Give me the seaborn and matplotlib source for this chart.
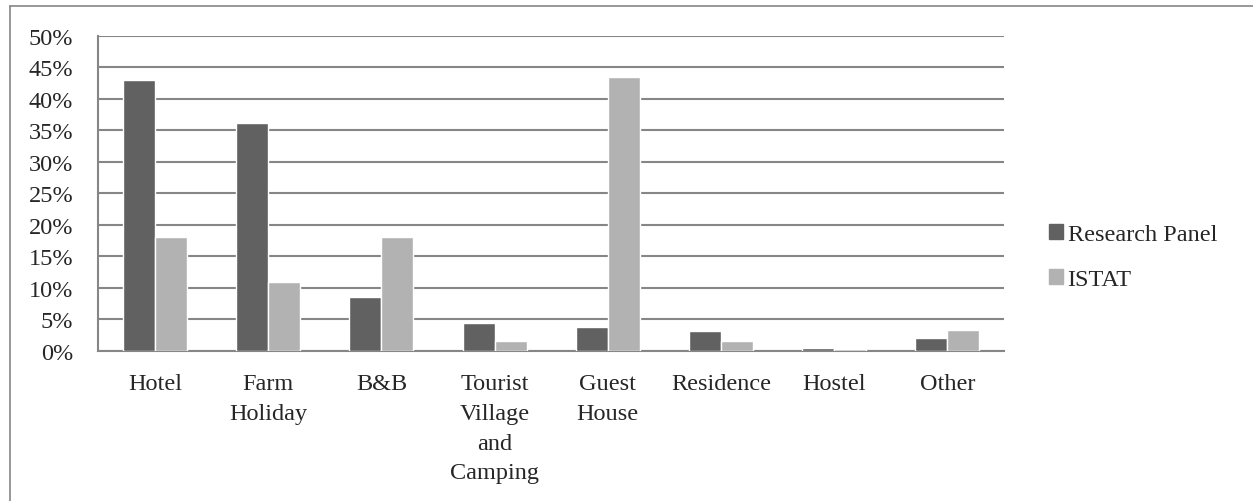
import matplotlib
matplotlib.use("Agg")
import matplotlib.pyplot as plt
import matplotlib.ticker as mticker
from matplotlib.lines import Line2D
import pandas as pd
import seaborn as sns

categories = ["Hotel", "Farm\nHoliday", "B&B", "Tourist\nVillage\nand\nCamping",
              "Guest\nHouse", "Residence", "Hostel", "Other"]
research_panel = [42.9, 36.1, 8.6, 4.4, 3.7, 3.1, 0.35, 2.0]
istat = [18.0, 10.9, 18.0, 1.5, 43.5, 1.6, 0.3, 3.3]
series = ["Research Panel", "ISTAT"]
colors = ["#616161", "#b2b2b2"]

df = pd.DataFrame({
    "category": categories * 2,
    "series": [series[0]] * len(categories) + [series[1]] * len(categories),
    "value": research_panel + istat,
})

sns.set_style("white")
plt.rcParams["font.family"] = ["Liberation Serif", "DejaVu Serif"]

fig = plt.figure(figsize=(12.53, 5.02), dpi=100)
ax = fig.add_axes([0.0785, 0.2994, 0.7228, 0.6275])

sns.barplot(data=df, x="category", y="value", hue="series", palette=colors,
            width=0.565, gap=0, saturation=1, ax=ax, legend=False, zorder=3)

ax.set_ylim(0, 50)
ax.set_xlim(-0.5, len(categories) - 0.5)
ax.yaxis.set_major_locator(mticker.MultipleLocator(5))
ax.yaxis.set_major_formatter(mticker.FuncFormatter(lambda v, p: f"{v:.0f}%"))
ax.set_axisbelow(True)
ax.grid(axis="y", color="#868686", linewidth=1.5)

# category boundary ticks on x
ax.set_xticks([i - 0.5 for i in range(len(categories) + 1)])
ax.set_xticklabels([])
ax.set_xticks(range(len(categories)), minor=True)
ax.set_xticklabels(categories, minor=True, fontsize=17.5, linespacing=1.55)
ax.tick_params(axis="x", which="major", length=7, width=1.2, color="#868686", direction="out")
ax.tick_params(axis="x", which="minor", length=0, pad=16)
ax.tick_params(axis="y", length=7, width=1.2, color="#868686", labelsize=17.5, pad=11)
ax.set_xlabel("")
ax.set_ylabel("")

for s in ["top", "right"]:
    ax.spines[s].set_visible(False)
for s in ["left", "bottom"]:
    ax.spines[s].set_color("#868686")
    ax.spines[s].set_linewidth(1.5)

handles = [plt.Rectangle((0, 0), 1, 1, color=c) for c in colors]
fig.legend(handles, series, loc="center left", bbox_to_anchor=(0.82, 0.486),
           frameon=False, fontsize=17.5, handlelength=0.55, handleheight=0.6,
           handletextpad=0.2, labelspacing=0.97)

# outer chart border (left and top visible)
fig.add_artist(Line2D([10 / 1253, 10 / 1253], [0, 1 - 7 / 502], color="#868686", linewidth=1.2))
fig.add_artist(Line2D([10 / 1253, 1], [1 - 7 / 502, 1 - 7 / 502], color="#868686", linewidth=1.2))

fig.savefig("out.png", dpi=100)
